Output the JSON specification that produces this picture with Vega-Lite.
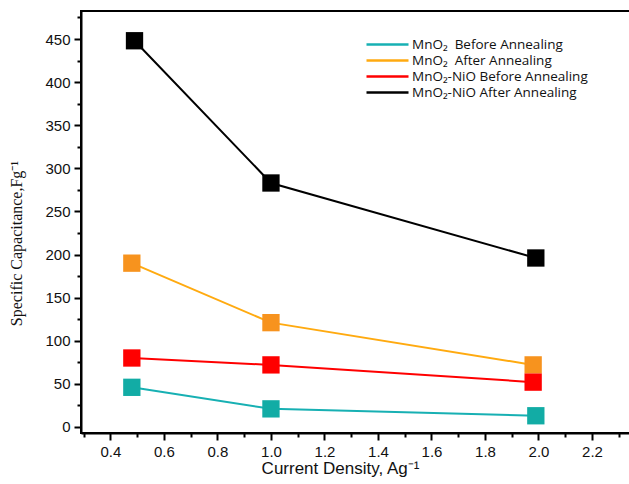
{
  "$schema": "https://vega.github.io/schema/vega-lite/v6.json",
  "width": 549,
  "height": 422,
  "autosize": {"type": "none"},
  "padding": {"left": 81, "top": 11, "right": 0, "bottom": 51},
  "background": "white",
  "config": {
    "view": {"stroke": "black", "strokeWidth": 2},
    "axis": {"grid": false, "domainColor": "black", "domainWidth": 2, "tickColor": "black", "tickWidth": 2, "labelColor": "#111", "labelFont": "Liberation Sans", "labelFontSize": 15, "titleColor": "#111", "titleFontWeight": "normal"}
  },
  "data": {
    "values": [
      {"series": "MnO₂ \u00a0Before Annealing", "x": 0.48, "y": 46},
      {"series": "MnO₂ \u00a0Before Annealing", "x": 1.0, "y": 21},
      {"series": "MnO₂ \u00a0Before Annealing", "x": 1.99, "y": 13},
      {"series": "MnO₂ \u00a0After Annealing", "x": 0.48, "y": 190},
      {"series": "MnO₂ \u00a0After Annealing", "x": 1.0, "y": 121},
      {"series": "MnO₂ \u00a0After Annealing", "x": 1.98, "y": 72},
      {"series": "MnO₂-NiO Before Annealing", "x": 0.48, "y": 80},
      {"series": "MnO₂-NiO Before Annealing", "x": 1.0, "y": 72},
      {"series": "MnO₂-NiO Before Annealing", "x": 1.98, "y": 52},
      {"series": "MnO₂-NiO After Annealing", "x": 0.49, "y": 448},
      {"series": "MnO₂-NiO After Annealing", "x": 1.0, "y": 283},
      {"series": "MnO₂-NiO After Annealing", "x": 1.99, "y": 196}
    ]
  },
  "encoding": {
    "x": {
      "field": "x", "type": "quantitative",
      "scale": {"domain": [0.29, 2.342], "nice": false, "zero": false},
      "axis": {
        "values": [0.3, 0.4, 0.5, 0.6, 0.7, 0.8, 0.9, 1.0, 1.1, 1.2, 1.3, 1.4, 1.5, 1.6, 1.7, 1.8, 1.9, 2.0, 2.1, 2.2, 2.3],
        "format": ".1f",
        "labelExpr": "round(datum.value*10) % 2 === 0 ? datum.label : ''",
        "tickSize": {"condition": {"test": "round(datum.value*10) % 2 === 0", "value": 7}, "value": 4},
        "labelPadding": 4,
        "title": "Current Density, Ag⁻¹",
        "titleFont": "Liberation Sans", "titleFontSize": 17, "titlePadding": 1, "titleX": 259
      }
    },
    "y": {
      "field": "y", "type": "quantitative",
      "scale": {"domain": [-7, 482.5], "nice": false, "zero": false},
      "axis": {
        "values": [0, 25, 50, 75, 100, 125, 150, 175, 200, 225, 250, 275, 300, 325, 350, 375, 400, 425, 450, 475],
        "labelExpr": "datum.value % 50 === 0 ? datum.label : ''",
        "tickSize": {"condition": {"test": "datum.value % 50 === 0", "value": 7}, "value": 4},
        "labelPadding": 4,
        "title": "Specific Capacitance,Fg⁻¹",
        "titleFont": "Liberation Serif", "titleFontSize": 16, "titlePadding": 20, "titleY": 232
      }
    },
    "color": {
      "field": "series", "type": "nominal",
      "sort": ["MnO₂ \u00a0Before Annealing", "MnO₂ \u00a0After Annealing", "MnO₂-NiO Before Annealing", "MnO₂-NiO After Annealing"],
      "scale": {
        "domain": ["MnO₂ \u00a0Before Annealing", "MnO₂ \u00a0After Annealing", "MnO₂-NiO Before Annealing", "MnO₂-NiO After Annealing"],
        "range": ["#17b0b3", "#ffaa10", "#ff0000", "#000000"]
      },
      "legend": {
        "title": null, "orient": "none", "legendX": 284, "legendY": 24.5,
        "symbolType": "M-1,0H4.6", "symbolSize": 225, "symbolStrokeWidth": 2.5,
        "labelFont": "Open Sans", "labelFontSize": 13.5, "labelColor": "#111", "labelOffset": 29, "labelLimit": 0,
        "rowPadding": 0, "padding": 0
      }
    }
  },
  "layer": [
    {"mark": {"type": "line", "strokeWidth": 2}},
    {
      "mark": {"type": "point", "shape": "square", "filled": true, "size": 300, "opacity": 1},
      "encoding": {
        "fill": {
          "field": "series", "type": "nominal",
          "scale": {
            "domain": ["MnO₂ \u00a0Before Annealing", "MnO₂ \u00a0After Annealing", "MnO₂-NiO Before Annealing", "MnO₂-NiO After Annealing"],
            "range": ["#12aca5", "#f7931e", "#ff0000", "#000000"]
          },
          "legend": null
        }
      }
    }
  ]
}
